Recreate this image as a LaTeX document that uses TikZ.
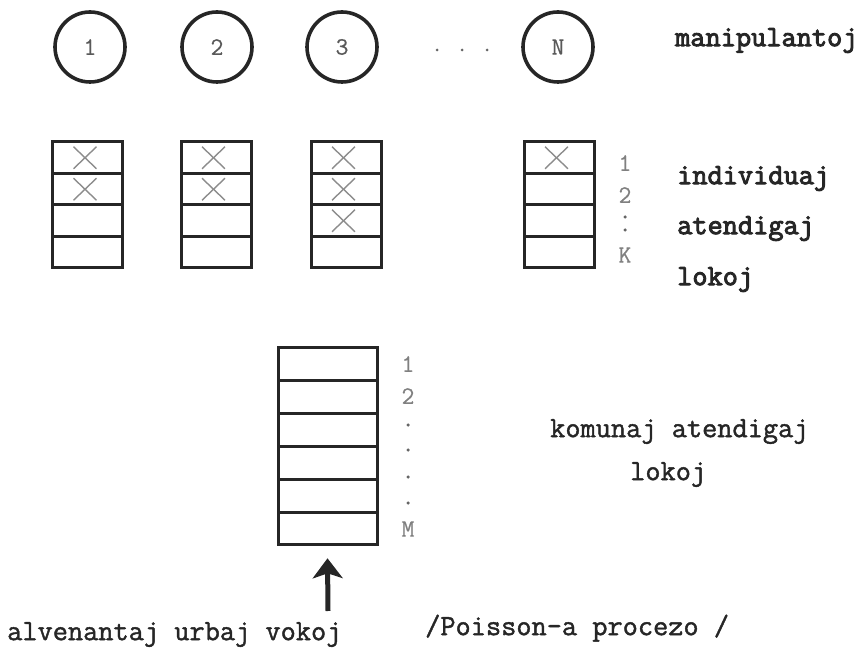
\documentclass[tikz,border=0pt]{standalone}
\usepackage{fontspec}
\newfontfamily\typebold[FakeBold=3.2]{Latin Modern Mono}
\newfontfamily\typereg[FakeBold=1.4]{Latin Modern Mono}
\newfontfamily\typelight[FakeBold=0.6]{Latin Modern Mono}
\usetikzlibrary{arrows.meta}

\tikzset{
  ink/.style={draw=black!85, line width=3.6pt},
  worker/.style={circle, ink, minimum size=70pt, inner sep=0pt,
    font=\typelight\fontsize{25}{25}\selectfont, text=black!65},
  cell/.style={draw=black!85, line width=3pt, inner sep=0pt,
    minimum width=70pt, minimum height=31.5pt},
  bigcell/.style={cell, minimum width=99pt, minimum height=32.8pt},
  crossmark/.style={draw=black!45, line width=1.4pt},
  heavytext/.style={anchor=mid west, inner sep=0pt, text=black!85,
    font=\typebold\fontsize{29.5}{29.5}\selectfont},
  plaintext/.style={anchor=mid west, inner sep=0pt, text=black!85,
    font=\typereg\fontsize{29.5}{29.5}\selectfont},
  slotnum/.style={inner sep=0pt, text=black!50,
    font=\typelight\fontsize{25}{25}\selectfont},
  slotdot/.style={circle, fill=black!60, inner sep=0pt, minimum size=3.5pt},
}

\begin{document}
\begin{tikzpicture}[x=1pt, y=-1pt]
  \useasboundingbox (0,0) rectangle (868,652);

  % servers
  \node[worker] (w1) at (90,47) {1};
  \node[worker] (w2) at (217,47) {2};
  \node[worker] (w3) at (342,47) {3};
  \node[worker] (wn) at (558,47) {N};
  \node[slotdot, minimum size=3pt] (d1) at (437,50) {};
  \node[slotdot, minimum size=3pt] (d2) at (462,50) {};
  \node[slotdot, minimum size=3pt] (d3) at (487,50) {};
  \node[heavytext] (tman) at (675,44) {manipulantoj};

  % individual waiting places, crosses mark occupied ones
  \foreach \s/\x/\n in {a/87.5/2, b/216/2, c/346/3, d/559/1} {
    \foreach \i in {1,...,4} {
      \node[cell] (\s\i) at (\x,{142+31.5*(\i-0.5)}) {};
    }
    \foreach \i in {1,...,\n} {
      \draw[crossmark] ([xshift=-14pt,yshift=11pt]\s\i.center)
        -- ([xshift=9pt,yshift=-11pt]\s\i.center);
      \draw[crossmark] ([xshift=9pt,yshift=11pt]\s\i.center)
        -- ([xshift=-14pt,yshift=-11pt]\s\i.center);
    }
  }
  \node[slotnum] (k1) at (625,163) {1};
  \node[slotnum] (k2) at (625,195) {2};
  \node[slotdot] (kd1) at (625,217) {};
  \node[slotdot] (kd2) at (625,230) {};
  \node[slotnum] (kk) at (625,255) {K};
  \node[heavytext] (ti) at (677,182) {individuaj};
  \node[heavytext] (ta) at (677,232) {atendigaj};
  \node[heavytext] (tl) at (677,283) {lokoj};

  % common waiting places
  \foreach \i in {1,...,6} {
    \node[bigcell] (q\i) at (327.5,{348+32.8*(\i-0.5)}) {};
  }
  \node[slotnum] (m1) at (408,364) {1};
  \node[slotnum] (m2) at (408,396) {2};
  \foreach \y [count=\j] in {425,450,477,503} {
    \node[slotdot] (md\j) at (408,\y) {};
  }
  \node[slotnum] (mm) at (408,529) {M};
  \node[plaintext] (tk) at (550,435) {komunaj atendigaj};
  \node[plaintext] (tk2) at (630,478) {lokoj};

  % arriving calls
  \coordinate (foot) at (328,611);
  \draw[draw=black!85, line width=5pt,
    -{Stealth[length=20pt, width=30pt, inset=5pt]}]
    (foot) -- ([yshift=-12pt]q6.south);
  \node[plaintext] (tv) at (7,638) {alvenantaj urbaj vokoj};
  \node[plaintext] (tp) at (425,633) {/Poisson-a procezo /};
\end{tikzpicture}
\end{document}
